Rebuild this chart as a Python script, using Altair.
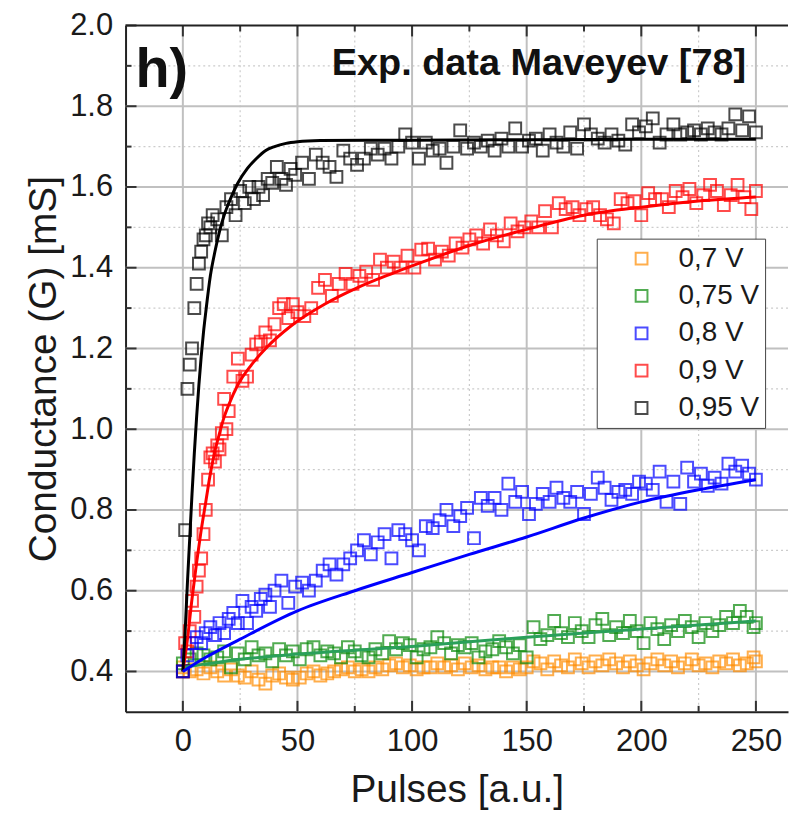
import altair as alt
import pandas as pd

# ---------------- data ----------------
labels = ["0,7 V", "0,75 V", "0,8 V", "0,9 V", "0,95 V"]
point_colors = ["#FF8C00", "#0A8A0A", "#0000FF", "#FF0000", "#000000"]

grid3 = list(range(0, 250, 3)) + [250]

orange_x = grid3
orange_y = [0.41, 0.40, 0.405, 0.395, 0.41, 0.40, 0.39, 0.405, 0.39, 0.385, 0.40, 0.38, 0.37, 0.39,
            0.395, 0.385, 0.38, 0.385, 0.395, 0.40, 0.39, 0.395, 0.40, 0.405, 0.41, 0.40, 0.405, 0.40,
            0.41, 0.405, 0.415, 0.42, 0.41, 0.415, 0.405, 0.41, 0.41, 0.42, 0.41, 0.415, 0.405, 0.42,
            0.41, 0.415, 0.405, 0.41, 0.41, 0.40, 0.41, 0.405, 0.41, 0.425, 0.42, 0.405, 0.425, 0.415,
            0.41, 0.43, 0.42, 0.41, 0.425, 0.415, 0.43, 0.42, 0.41, 0.425, 0.415, 0.405, 0.42, 0.43,
            0.415, 0.425, 0.41, 0.42, 0.43, 0.415, 0.42, 0.41, 0.425, 0.42, 0.43, 0.415, 0.42, 0.435,
            0.425]

green_x = grid3
green_y = [0.42, 0.43, 0.445, 0.44, 0.43, 0.435, 0.45, 0.41, 0.445, 0.43, 0.46, 0.44, 0.445, 0.425,
           0.455, 0.44, 0.45, 0.43, 0.455, 0.46, 0.44, 0.45, 0.445, 0.435, 0.46, 0.45, 0.44, 0.435,
           0.455, 0.445, 0.475, 0.455, 0.47, 0.465, 0.435, 0.455, 0.46, 0.485, 0.47, 0.445, 0.465, 0.46,
           0.47, 0.435, 0.45, 0.455, 0.475, 0.46, 0.445, 0.465, 0.435, 0.51, 0.48, 0.49, 0.525, 0.495,
           0.485, 0.52, 0.50, 0.485, 0.515, 0.53, 0.49, 0.51, 0.495, 0.525, 0.50, 0.47, 0.52, 0.505,
           0.48, 0.515, 0.50, 0.525, 0.51, 0.485, 0.52, 0.50, 0.515, 0.535, 0.52, 0.55, 0.535, 0.51,
           0.52]

blue_x = [0, 2, 4, 6, 8, 10, 12, 14, 16, 18, 20, 22, 24, 26, 28, 30, 32, 34, 36, 38, 40, 43, 46, 49,
          52, 55, 58, 61, 64, 67, 70, 73, 76, 79, 82, 85, 88, 91, 94, 97, 100, 103, 106, 109, 112, 115,
          118, 121, 124, 127, 130, 133, 136, 139, 142, 145, 148, 151, 154, 157, 160, 163, 166, 169, 172,
          175, 178, 181, 184, 187, 190, 193, 196, 199, 202, 205, 208, 211, 214, 217, 220, 223, 226, 229,
          232, 235, 238, 241, 244, 247, 250]
blue_y = [0.40, 0.44, 0.47, 0.485, 0.47, 0.495, 0.51, 0.49, 0.52, 0.495, 0.53, 0.545, 0.52, 0.575,
          0.52, 0.56, 0.55, 0.58, 0.59, 0.56, 0.60, 0.625, 0.57, 0.61, 0.62, 0.60, 0.625, 0.65, 0.665,
          0.64, 0.665, 0.68, 0.70, 0.725, 0.69, 0.72, 0.74, 0.68, 0.75, 0.74, 0.725, 0.70, 0.76, 0.755,
          0.775, 0.80, 0.76, 0.785, 0.805, 0.73, 0.83, 0.81, 0.83, 0.80, 0.865, 0.82, 0.845, 0.79, 0.815,
          0.84, 0.82, 0.855, 0.83, 0.82, 0.845, 0.79, 0.84, 0.88, 0.855, 0.825, 0.845, 0.85, 0.84, 0.87,
          0.865, 0.85, 0.895, 0.82, 0.87, 0.815, 0.905, 0.87, 0.89, 0.86, 0.88, 0.865, 0.915, 0.895,
          0.91, 0.89, 0.875]

red_x = [0, 1, 2, 3, 4, 5, 6, 7, 8, 9, 10, 11, 12, 13, 14, 15, 16, 17, 18, 19, 20, 22, 24, 26, 28,
         30, 32, 34, 36, 38, 40, 42, 44, 46, 48, 50, 53, 56, 59, 62, 65, 68, 71, 74, 77, 80, 83, 86, 89,
         92, 95, 98, 101, 104, 107, 110, 113, 116, 119, 122, 125, 128, 131, 134, 137, 140, 143, 146,
         149, 152, 155, 158, 161, 164, 167, 170, 173, 176, 179, 182, 185, 188, 191, 194, 197, 200, 203,
         206, 209, 212, 215, 218, 221, 224, 227, 230, 233, 236, 239, 242, 245, 248, 250]
red_y = [0.40, 0.47, 0.45, 0.50, 0.575, 0.535, 0.61, 0.65, 0.68, 0.74, 0.80, 0.875, 0.93, 0.94, 0.92,
         0.96, 0.95, 0.99, 1.075, 1.00, 1.045, 1.13, 1.175, 1.12, 1.13, 1.185, 1.21, 1.217, 1.24, 1.22,
         1.26, 1.30, 1.31, 1.275, 1.31, 1.29, 1.28, 1.30, 1.35, 1.37, 1.33, 1.36, 1.385, 1.36, 1.38,
         1.39, 1.37, 1.42, 1.40, 1.415, 1.40, 1.43, 1.40, 1.445, 1.447, 1.42, 1.44, 1.43, 1.46, 1.45,
         1.47, 1.48, 1.46, 1.495, 1.48, 1.465, 1.51, 1.49, 1.50, 1.515, 1.50, 1.54, 1.50, 1.56, 1.545,
         1.55, 1.53, 1.545, 1.55, 1.53, 1.52, 1.51, 1.57, 1.56, 1.565, 1.53, 1.585, 1.57, 1.57, 1.55,
         1.59, 1.575, 1.595, 1.56, 1.58, 1.605, 1.59, 1.555, 1.58, 1.605, 1.575, 1.545, 1.59]

black_x = [0, 1, 2, 3, 4, 5, 6, 7, 8, 9, 10, 11, 12, 13, 15, 17, 19, 21, 23, 25, 27, 29, 31, 33, 35,
           37, 39, 41, 43, 45, 47, 49, 52, 55, 58, 61, 64, 67, 70, 73, 76, 79, 82, 85, 88, 91, 94, 97,
           100, 103, 106, 109, 112, 115, 118, 121, 124, 127, 130, 133, 136, 139, 142, 145, 148, 151,
           154, 157, 160, 163, 166, 169, 172, 175, 178, 181, 184, 187, 190, 193, 196, 199, 202, 205,
           208, 211, 214, 217, 220, 223, 226, 229, 232, 235, 238, 241, 244, 247, 250]
black_y = [0.40, 0.75, 1.10, 1.16, 1.20, 1.30, 1.36, 1.41, 1.44, 1.47, 1.48, 1.51, 1.50, 1.53, 1.52,
           1.48, 1.55, 1.57, 1.53, 1.59, 1.56, 1.60, 1.57, 1.60, 1.58, 1.62, 1.61, 1.65, 1.62, 1.605,
           1.645, 1.63, 1.66, 1.62, 1.68, 1.66, 1.65, 1.625, 1.69, 1.67, 1.655, 1.67, 1.695, 1.68,
           1.695, 1.67, 1.70, 1.73, 1.71, 1.67, 1.71, 1.69, 1.695, 1.66, 1.70, 1.74, 1.695, 1.71, 1.70,
           1.715, 1.69, 1.72, 1.70, 1.745, 1.70, 1.715, 1.72, 1.69, 1.73, 1.71, 1.70, 1.735, 1.695,
           1.755, 1.73, 1.72, 1.71, 1.73, 1.715, 1.705, 1.755, 1.735, 1.75, 1.77, 1.71, 1.73, 1.755,
           1.73, 1.735, 1.74, 1.73, 1.745, 1.735, 1.73, 1.745, 1.78, 1.74, 1.775, 1.735]

# fitted curves
line_colors = ["#2AA05A", "#0000FF", "#FF0000", "#000000"]
line_labels = ["0,75 V", "0,8 V", "0,9 V", "0,95 V"]
green_fit_x = [0, 25, 50, 100, 150, 200, 250]
green_fit_y = [0.41, 0.43, 0.443, 0.462, 0.485, 0.505, 0.525]
blue_fit_x = [0, 10, 25, 50, 75, 100, 125, 150, 175, 200, 225, 250]
blue_fit_y = [0.40, 0.435, 0.48, 0.55, 0.60, 0.645, 0.69, 0.733, 0.78, 0.82, 0.85, 0.875]
red_fit_x = [0, 2, 4, 6, 8, 10, 12, 14, 16, 18, 20, 24, 30, 37, 47, 62, 76, 91, 105, 125, 150, 175,
             200, 225, 250]
red_fit_y = [0.40, 0.48, 0.58, 0.67, 0.75, 0.82, 0.89, 0.946, 0.99, 1.03, 1.06, 1.11, 1.16, 1.205,
             1.255, 1.31, 1.35, 1.385, 1.415, 1.455, 1.495, 1.53, 1.55, 1.565, 1.575]
black_fit_x = [0, 1, 2, 3, 4, 5, 6, 7, 8, 9, 10, 12, 14, 16, 18, 20, 24, 28, 32, 36, 40, 45, 50, 60,
               80, 100, 150, 200, 250]
black_fit_y = [0.40, 0.50, 0.62, 0.73, 0.84, 0.94, 1.03, 1.11, 1.18, 1.24, 1.29, 1.38, 1.44, 1.49,
               1.53, 1.56, 1.61, 1.645, 1.67, 1.69, 1.70, 1.708, 1.712, 1.715, 1.716, 1.716, 1.717,
               1.718, 1.718]

x_ticks = [0, 50, 100, 150, 200, 250]
x_minor = [25, 75, 125, 175, 225]
y_ticks = [0.4, 0.6, 0.8, 1.0, 1.2, 1.4, 1.6, 1.8, 2.0]
y_minor = [0.5, 0.7, 0.9, 1.1, 1.3, 1.5, 1.7, 1.9]

# ---------------- build tables ----------------
def frame(xv, yv, name):
    return pd.DataFrame({"x": xv, "y": yv, "series": name})

pts = pd.concat([
    frame(orange_x, orange_y, labels[0]),
    frame(green_x, green_y, labels[1]),
    frame(red_x, red_y, labels[3]),
    frame(black_x, black_y, labels[4]),
    frame(blue_x, blue_y, labels[2]),
], ignore_index=True)
pts["order"] = range(len(pts))

fits = pd.concat([
    frame(green_fit_x, green_fit_y, line_labels[0]),
    frame(red_fit_x, red_fit_y, line_labels[2]),
    frame(black_fit_x, black_fit_y, line_labels[3]),
    frame(blue_fit_x, blue_fit_y, line_labels[1]),
], ignore_index=True)

W, H = 665, 689
FONT = "Liberation Sans"
xs = alt.Scale(domain=[-25, 264], nice=False, zero=False)
ys = alt.Scale(domain=[0.3, 2.0], nice=False, zero=False)

x_axis = alt.Axis(values=x_ticks, format="d", title="Pulses [a.u.]", grid=False, ticks=False,
                  tickSize=0, labelFontSize=31, labelFont=FONT, labelColor="#1a1a1a",
                  labelPadding=15, labelFlush=False, titleFontSize=39, titleFont=FONT,
                  titleFontWeight="normal", titleColor="#1a1a1a", titlePadding=14,
                  domainColor="#222222", domainWidth=2)
y_axis = alt.Axis(values=y_ticks, format=".1f", title="Conductance (G) [mS]", grid=False,
                  ticks=False, tickSize=0, labelFontSize=31, labelFont=FONT, labelColor="#1a1a1a",
                  labelPadding=13, titleFontSize=39, titleFont=FONT, titleFontWeight="normal",
                  titleColor="#1a1a1a", titlePadding=6, domainColor="#222222", domainWidth=2)

def X(**kw):
    return alt.X("x:Q", scale=xs, axis=x_axis, **kw)

def Y(**kw):
    return alt.Y("y:Q", scale=ys, axis=y_axis, **kw)

xmaj = pd.DataFrame({"x": x_ticks})
xmin = pd.DataFrame({"x": x_minor})
ymaj = pd.DataFrame({"y": y_ticks[:-1]})
ymin = pd.DataFrame({"y": y_minor})

grid_major_v = alt.Chart(xmaj).mark_rule(color="#c0c0c0", strokeWidth=2).encode(x=X())
grid_minor_v = alt.Chart(xmin).mark_rule(color="#cccccc", strokeWidth=1.2, strokeDash=[2, 3]).encode(x=X())
grid_major_h = alt.Chart(ymaj).mark_rule(color="#c0c0c0", strokeWidth=2).encode(y=Y())
grid_minor_h = alt.Chart(ymin).mark_rule(color="#cccccc", strokeWidth=1.2, strokeDash=[2, 3]).encode(y=Y())

tick_col = "#333333"
tk_bottom_major = alt.Chart(xmaj).mark_rule(color=tick_col, strokeWidth=2).encode(
    x=X(), y=alt.value(H), y2=alt.value(H - 11))
tk_bottom_minor = alt.Chart(xmin).mark_rule(color=tick_col, strokeWidth=2).encode(
    x=X(), y=alt.value(H), y2=alt.value(H - 6))
tk_top_major = alt.Chart(xmaj).mark_rule(color=tick_col, strokeWidth=2).encode(
    x=X(), y=alt.value(0), y2=alt.value(11))
tk_top_minor = alt.Chart(xmin).mark_rule(color=tick_col, strokeWidth=2).encode(
    x=X(), y=alt.value(0), y2=alt.value(6))
tk_left_major = alt.Chart(pd.DataFrame({"y": y_ticks})).mark_rule(color=tick_col, strokeWidth=2).encode(
    y=Y(), x=alt.value(0), x2=alt.value(11))
tk_left_minor = alt.Chart(ymin).mark_rule(color=tick_col, strokeWidth=2).encode(
    y=Y(), x=alt.value(0), x2=alt.value(6))
top_border = alt.Chart(pd.DataFrame({"y": [2.0]})).mark_rule(color="#222222", strokeWidth=2).encode(
    y=Y(), x=alt.value(0), x2=alt.value(W))

points = alt.Chart(pts).mark_point(shape="square", filled=False, size=140, strokeWidth=2).encode(
    x=X(), y=Y(),
    color=alt.Color("series:N", scale=alt.Scale(domain=labels, range=point_colors),
                    legend=alt.Legend(orient="none", legendX=473, legendY=214, title=None,
                                      labelFont=FONT, labelFontSize=28, labelColor="#1a1a1a",
                                      symbolType="square", symbolSize=140, symbolStrokeWidth=2,
                                      symbolOffset=25, labelOffset=23, padding=6, rowPadding=9.5,
                                      strokeColor="#444444", fillColor="white")),
    order="order:Q",
)

lines = alt.Chart(fits).mark_line(strokeWidth=3, interpolate="monotone").encode(
    x=X(), y=Y(),
    color=alt.Color("series:N", scale=alt.Scale(domain=line_labels, range=line_colors), legend=None),
    detail="series:N",
)

label_h = alt.Chart(pd.DataFrame({"t": ["h)"]})).mark_text(
    font=FONT, fontSize=56, fontWeight="bold", align="left", baseline="alphabetic", color="#111111"
).encode(text="t:N", x=alt.value(10), y=alt.value(62))

label_exp = alt.Chart(pd.DataFrame({"t": ["Exp. data Maveyev [78]"]})).mark_text(
    font=FONT, fontSize=38, fontWeight="bold", align="center", baseline="alphabetic", color="#111111"
).encode(text="t:N", x=alt.value(415), y=alt.value(50))

chart = alt.layer(
    grid_minor_v, grid_minor_h, grid_major_v, grid_major_h,
    tk_bottom_major, tk_bottom_minor, tk_top_major, tk_top_minor, tk_left_major, tk_left_minor,
    top_border, points, lines, label_h, label_exp,
).resolve_scale(color="independent").properties(
    width=W, height=H, background="white",
    padding={"left": 16, "top": 0, "right": 0, "bottom": 0},
).configure_view(stroke=None)

chart.save("out.html", embed_options={"renderer": "svg", "actions": False})
